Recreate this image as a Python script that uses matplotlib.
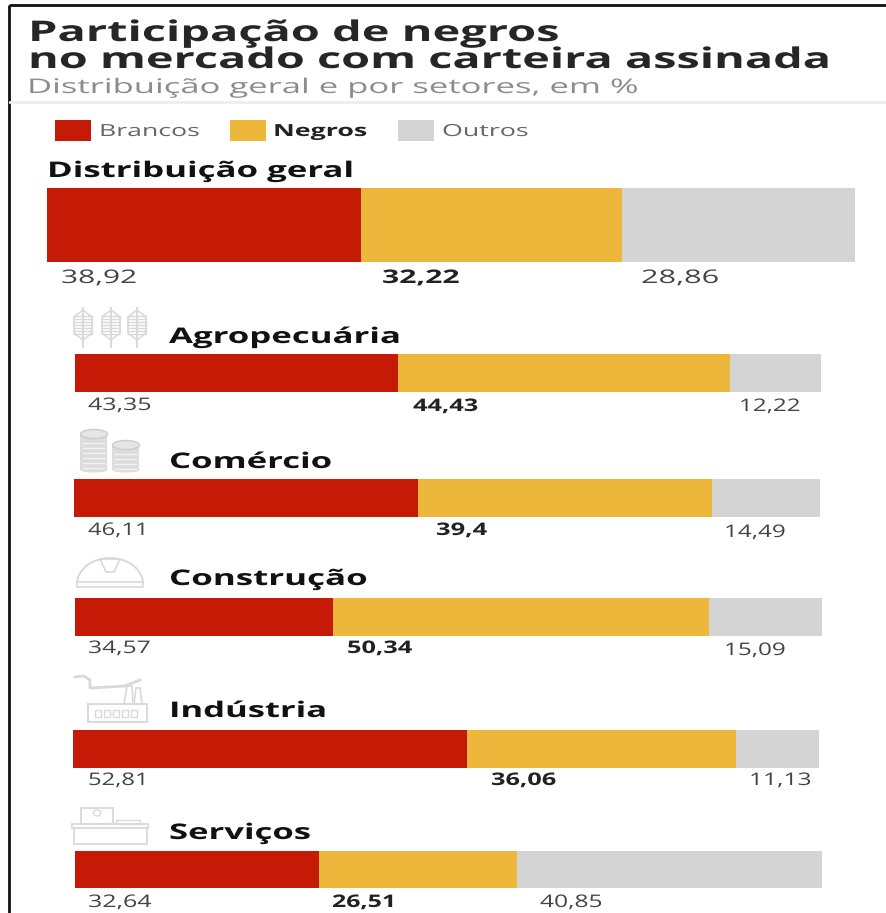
import matplotlib.pyplot as plt
from matplotlib.patches import Rectangle, Ellipse, Polygon, Arc
from matplotlib.patheffects import AbstractPathEffect
from matplotlib.transforms import Affine2D

W, H = 887, 913

colors = ["#c41a06", "#ecb73a", "#d4d4d4"]
legend_names = ["Brancos", "Negros", "Outros"]

sectors = ["Distribuição geral", "Agropecuária", "Comércio", "Construção", "Indústria", "Serviços"]
brancos = [38.92, 43.35, 46.11, 34.57, 52.81, 32.64]
negros = [32.22, 44.43, 39.4, 50.34, 36.06, 26.51]
outros = [28.86, 12.22, 14.49, 15.09, 11.13, 40.85]

# bar boxes in pixels: left, right, top, bottom
boxes = [(47, 855, 188, 262), (75, 821, 354, 392), (74, 820, 479, 517),
         (75, 822, 598, 636), (73, 819, 730, 768), (75, 822, 851, 888)]
# section titles: left, right, baseline
title_pos = [(47, 354, 177), (169, 401, 343), (169, 332, 468),
             (169, 368, 585), (169, 327, 717), (169, 311, 839)]
# value labels: left, right, baseline for each of the three
value_pos = [[(61, 137, 283), (382, 460, 283), (641, 719, 283)],
             [(88, 152, 410), (413, 478, 411), (739, 801, 411)],
             [(88, 149, 535), (436, 487, 535), (724, 786, 537)],
             [(88, 151, 653), (347, 412, 653), (724, 786, 655)],
             [(88, 149, 785), (491, 556, 785), (749, 812, 785)],
             [(88, 152, 907), (332, 396, 907), (540, 603, 907)]]


class StretchX(AbstractPathEffect):
    # widens text about a fixed display x
    def __init__(self, x0, sx):
        super().__init__()
        self.x0 = x0
        self.sx = sx

    def draw_path(self, renderer, gc, tpath, affine, rgbFace=None):
        stretch = Affine2D().translate(-self.x0, 0).scale(self.sx, 1).translate(self.x0, 0)
        renderer.draw_path(gc, tpath, affine + stretch, rgbFace)


def fmt(v):
    return str(v).replace(".", ",")


fig = plt.figure(figsize=(W / 100, H / 100), dpi=100, facecolor="white")
plt.rcParams["font.family"] = ["Open Sans", "DejaVu Sans"]

ax = fig.add_axes([0, 0, 1, 1])
ax.set_xlim(0, W)
ax.set_ylim(H, 0)
ax.axis("off")
renderer = fig.canvas.get_renderer()


def put(s, x0, x1, base, size, color, bold=False):
    t = ax.text(x0, base, s, fontsize=size, color=color, va="baseline",
                fontweight="bold" if bold else "normal")
    w = t.get_window_extent(renderer).width
    t.set_path_effects([StretchX(x0, (x1 - x0) / w)])
    return t


# outer frame, open at the right and bottom
ax.plot([9, 9], [H, 5.5], color="#111111", lw=2, solid_capstyle="butt")
ax.plot([9, W], [5.5, 5.5], color="#111111", lw=2, solid_capstyle="butt")

put("Participação de negros", 28, 560, 41, 20.5, "#262626", True)
put("no mercado com carteira assinada", 28, 832, 68, 20.5, "#262626", True)
put("Distribuição geral e por setores, em %", 27, 639, 93, 14.5, "#8c8c8c")
ax.plot([10, W], [102, 102], color="#eeeeee", lw=2)

# legend
for x0, name, c, tx in zip([55, 230, 398], legend_names, colors, [(99, 199), (273, 367), (442, 528)]):
    ax.add_patch(Rectangle((x0, 120), 36, 21, color=c, lw=0))
    bold = name == "Negros"
    put(name, tx[0], tx[1], 136, 12, "#222222" if bold else "#666666", bold)

# stacked bars, one axes per sector on a 0-100 scale
for i, name in enumerate(sectors):
    l, r, t, b = boxes[i]
    bar_ax = fig.add_axes([l / W, 1 - b / H, (r - l) / W, (b - t) / H])
    bar_ax.barh([0], [brancos[i]], height=1, color=colors[0])
    bar_ax.barh([0], [negros[i]], left=[brancos[i]], height=1, color=colors[1])
    bar_ax.barh([0], [outros[i]], left=[brancos[i] + negros[i]], height=1, color=colors[2])
    bar_ax.set_xlim(0, 100)
    bar_ax.set_ylim(-0.5, 0.5)
    bar_ax.axis("off")

    x0, x1, base = title_pos[i]
    put(name, x0, x1, base, 15.5, "#111111", True)

    v1, v2, v3 = value_pos[i]
    size = 13.5 if i == 0 else 12.5
    put(fmt(brancos[i]), v1[0], v1[1], v1[2], size, "#444444")
    put(fmt(negros[i]), v2[0], v2[1], v2[2], size, "#222222", True)
    put(fmt(outros[i]), v3[0], v3[1], v3[2], size, "#444444")

# sector icons
icon = "#d9d9d9"

# wheat
for cx in [83, 111, 137]:
    ax.plot([cx, cx], [308, 347], color=icon, lw=1.4)
    ax.add_patch(Polygon([(cx, 310), (cx + 9, 317), (cx + 9, 333), (cx, 340), (cx - 9, 333), (cx - 9, 317)],
                         fill=False, ec=icon, lw=1.2))
    for yy in range(316, 336, 3):
        ax.plot([cx - 9, cx + 9], [yy, yy], color=icon, lw=1)

# coins
for cx, top, bot, rx in [(94, 434, 470, 13.5), (126, 445, 470, 13.5)]:
    ax.add_patch(Rectangle((cx - rx, top), 2 * rx, bot - top, color="#dcdcdc", lw=0))
    ax.add_patch(Ellipse((cx, bot), 2 * rx, 5, color="#dcdcdc", lw=0))
    ax.add_patch(Ellipse((cx, top), 2 * rx, 9, fc="#e6e6e6", ec="#cccccc", lw=1))
    for yy in range(top + 9, bot, 5):
        ax.plot([cx - rx + 3, cx + rx - 3], [yy, yy], color="#f2f2f2", lw=1)

# helmet
ax.add_patch(Arc((110, 584), 66, 52, theta1=180, theta2=360, ec=icon, lw=1.4))
ax.add_patch(Rectangle((77, 582), 66, 5, fill=False, ec=icon, lw=1.2))
ax.add_patch(Polygon([(100, 559), (120, 559), (114, 572), (106, 572)], fill=False, ec=icon, lw=1.2))

# factory
ax.add_patch(Rectangle((88, 704), 59, 18, fill=False, ec=icon, lw=1.4))
for bx in range(95, 140, 9):
    ax.add_patch(Rectangle((bx, 710), 6, 7, fill=False, ec=icon, lw=1))
ax.plot([75, 84, 90, 90, 125, 140], [677, 676, 680, 688, 686, 680], color=icon, lw=2)
ax.add_patch(Polygon([(124, 704), (127, 686), (132, 686), (133, 704)], fill=False, ec=icon, lw=1.2))
ax.add_patch(Polygon([(134, 704), (136, 688), (140, 688), (142, 704)], fill=False, ec=icon, lw=1.2))

# desk
ax.add_patch(Rectangle((81, 808), 32, 16, fill=False, ec=icon, lw=1.3))
ax.add_patch(Ellipse((97, 813), 7, 6, fill=False, ec=icon, lw=1))
ax.add_patch(Rectangle((72, 824), 76, 4, fill=False, ec=icon, lw=1.3))
ax.add_patch(Rectangle((116, 820), 24, 4, fill=False, ec=icon, lw=1))
ax.plot([74, 74, 147, 147], [828, 844, 844, 828], color=icon, lw=1.3)

fig.savefig("out.png", dpi=100)
